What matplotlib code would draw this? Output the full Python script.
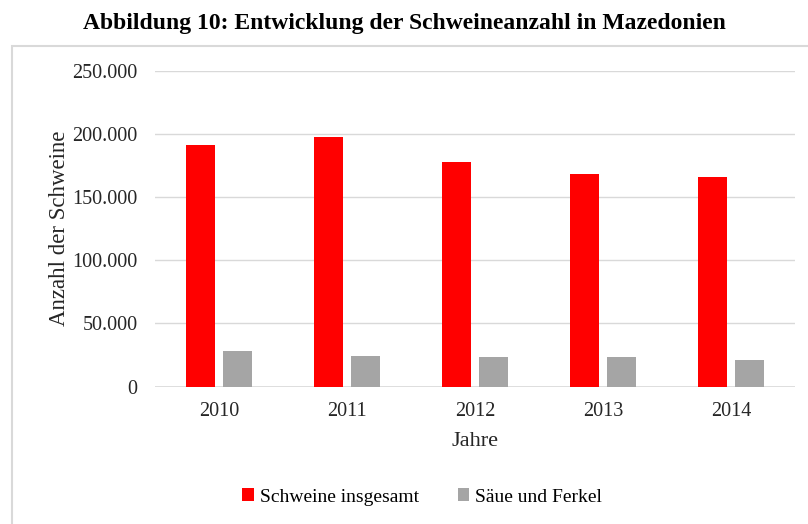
import matplotlib
matplotlib.use("Agg")
import matplotlib.pyplot as plt
from matplotlib.patches import Rectangle
from matplotlib.ticker import FuncFormatter
import numpy as np

years = ["2010", "2011", "2012", "2013", "2014"]
schweine_gesamt = [191000, 197000, 177500, 168000, 165500]
saeue_ferkel = [28000, 24000, 23000, 23000, 20700]

plt.rcParams["font.family"] = ["Liberation Serif", "DejaVu Serif"]

fig = plt.figure(figsize=(8.08, 5.24), dpi=100)
ax = fig.add_axes([155 / 808, 1 - 386.5 / 524, 640 / 808, 316 / 524])

# frame around chart (runs off the right and bottom edge)
fig.patches.append(Rectangle((12 / 808, -0.05), 1.0, 1 - 45.5 / 524 + 0.05,
                             transform=fig.transFigure, fill=False,
                             edgecolor="#d9d9d9", linewidth=1.5))

x = np.arange(len(years))
w = 0.227
off = 0.143
ax.bar(x - off, schweine_gesamt, w, color="#ff0000", label="Schweine insgesamt", zorder=3)
ax.bar(x + off, saeue_ferkel, w, color="#a5a5a5", label="Säue und Ferkel", zorder=3)

ax.set_xlim(-0.5, 4.5)
ax.set_ylim(0, 250000)
ax.set_yticks(np.arange(0, 250001, 50000))
ax.yaxis.set_major_formatter(FuncFormatter(lambda v, p: f"{int(v):,}".replace(",", ".")))
ax.set_xticks(x)
ax.set_xticklabels(years)
ax.grid(axis="y", color="#d9d9d9", linewidth=1, zorder=0)
for s in ax.spines.values():
    s.set_visible(False)
ax.axhline(0, color="#d9d9d9", linewidth=1.2, zorder=2)
ax.tick_params(length=0, labelsize=14.5, colors="#262626")
ax.tick_params(axis="y", pad=12.5)
ax.tick_params(axis="x", pad=11)

ax.set_xlabel("Jahre", fontsize=16, color="#262626", labelpad=8)
ax.set_ylabel("Anzahl der Schweine", fontsize=16.5, color="#262626", labelpad=2)

fig.text(0.5, 1 - 23 / 524, "Abbildung 10: Entwicklung der Schweineanzahl in Mazedonien",
         ha="center", va="center", fontsize=17, fontweight="bold")

fig.legend(loc="center", bbox_to_anchor=(422 / 808, 1 - 497 / 524), ncol=2,
           frameon=False, fontsize=14, handlelength=0.6, handleheight=0.6,
           handletextpad=0.3, columnspacing=2.0)

fig.savefig("out.png", dpi=100)
